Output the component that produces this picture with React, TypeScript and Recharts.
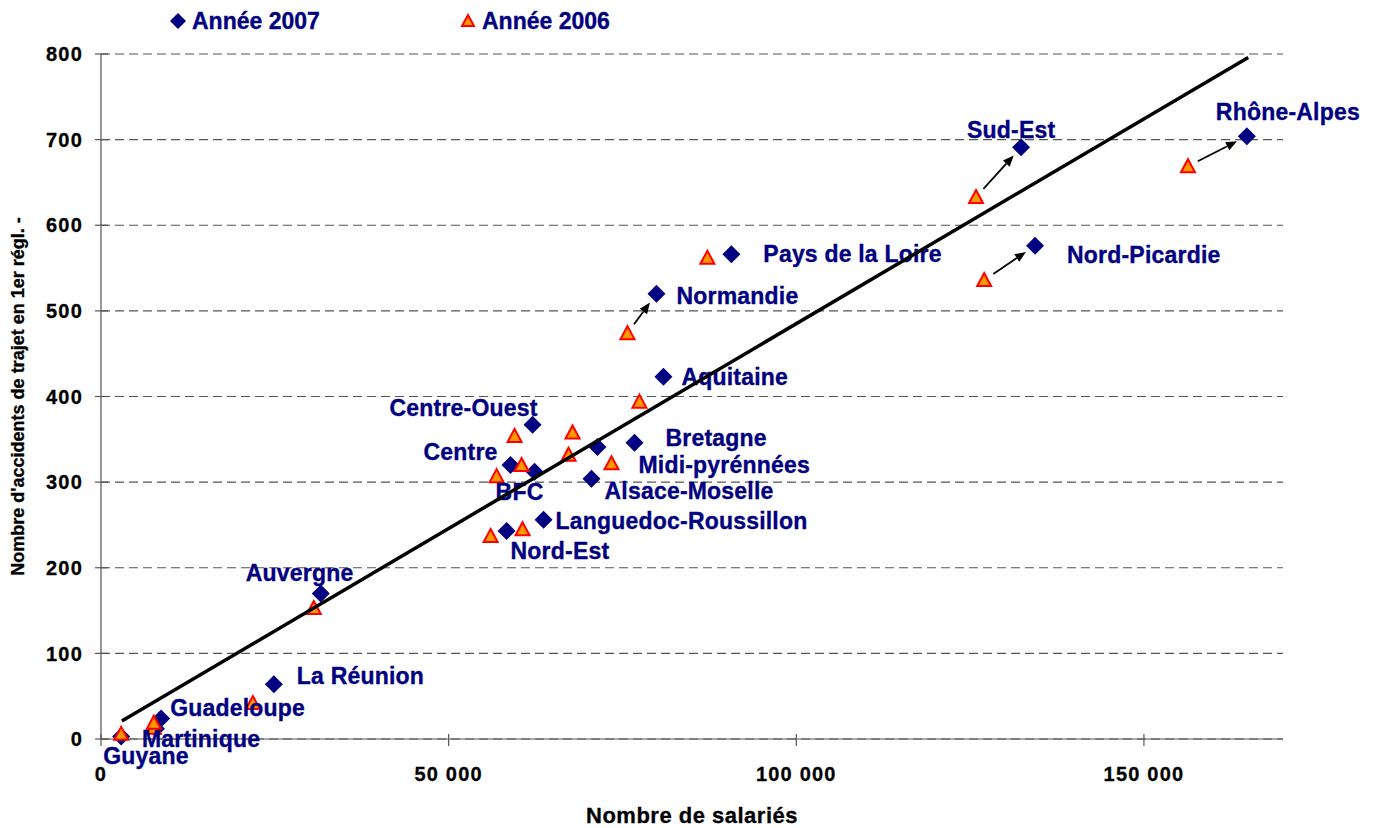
import React from 'react';
import { ScatterChart, Scatter, XAxis, YAxis, CartesianGrid, ReferenceLine, Legend, Label } from 'recharts';

const regions = [
  'Guyane', 'Martinique', 'Guadeloupe', 'La Réunion', 'Auvergne', 'Nord-Est',
  'Languedoc-Roussillon', 'BFC', 'Centre', 'Centre-Ouest', 'Alsace-Moselle',
  'Midi-pyrénnées', 'Bretagne', 'Aquitaine', 'Normandie', 'Pays de la Loire',
  'Sud-Est', 'Nord-Picardie', 'Rhône-Alpes',
];
const salaries2007 = [2900, 7900, 8650, 24860, 31610, 58330, 63650, 62360, 58900, 62070, 70550, 71400, 76730, 80890, 79890, 90660, 132330, 134340, 164800];
const accidents2007 = [3, 12, 24, 64, 170, 243, 256, 312, 320, 367, 304, 341, 346, 423, 520, 566, 691, 576, 704];
const salaries2006 = [2900, 7600, 7600, 21840, 30600, 56040, 60630, 60490, 56900, 59480, 67240, 73420, 67820, 77440, 75720, 87210, 125850, 127020, 156330];
const accidents2006 = [6, 13, 19, 42, 153, 237, 245, 320, 307, 354, 332, 322, 358, 394, 474, 562, 633, 536, 669];
const trendSalaries = [3000, 165000];
const trendAccidents = [21, 796];
const xTicks = [0, 50000, 100000, 150000];
const yTicks = [0, 100, 200, 300, 400, 500, 600, 700, 800];
const arrowRegions = ['Normandie', 'Sud-Est', 'Nord-Picardie', 'Rhône-Alpes'];

const data2007 = regions.map((name, i) => ({ name, x: salaries2007[i], y: accidents2007[i] }));
const data2006 = regions.map((name, i) => ({ name, x: salaries2006[i], y: accidents2006[i] }));
const trendData = trendSalaries.map((x, i) => ({ x, y: trendAccidents[i] }));

// label placement (pixel offsets from the 2007 marker: start x, vertical centre)
const labelOffsets: Record<string, [number, number]> = {
  'Guyane': [-18, 20],
  'Martinique': [-14, 10],
  'Guadeloupe': [9, -11],
  'La Réunion': [23, -8],
  'Auvergne': [-75, -20],
  'Nord-Est': [4, 20],
  'Languedoc-Roussillon': [12, 1],
  'BFC': [-39, 20],
  'Centre': [-87, -13],
  'Centre-Ouest': [-143, -17],
  'Alsace-Moselle': [13, 12],
  'Midi-pyrénnées': [41, 18],
  'Bretagne': [31, -5],
  'Aquitaine': [18, 0],
  'Normandie': [20, 2],
  'Pays de la Loire': [32, 0],
  'Sud-Est': [-54, -17],
  'Nord-Picardie': [32, 9],
  'Rhône-Alpes': [-31, -24],
};

const NAVY = '#000080';
const FONT = '"Liberation Sans", Arial, sans-serif';

const fmt = (v: number) => String(v).replace(/\B(?=(\d{3})+(?!\d))/g, ' ');

const Diamond = (props: any) => {
  const { cx, cy } = props;
  if (cx == null || cy == null) return null;
  const r = 9;
  return <polygon points={`${cx},${cy - r} ${cx + r},${cy} ${cx},${cy + r} ${cx - r},${cy}`} fill={NAVY} />;
};

const Triangle = (props: any) => {
  const { cx, cy } = props;
  if (cx == null || cy == null) return null;
  return (
    <polygon
      points={`${cx},${cy - 7} ${cx + 7},${cy + 6} ${cx - 7},${cy + 6}`}
      fill="#FF9900"
      stroke="#FF0000"
      strokeWidth={2}
    />
  );
};

const NameLabel = (props: any) => {
  const { cx, cy } = props;
  const name = props.payload?.name ?? props.name;
  const off = labelOffsets[name] || [12, 0];
  return (
    <text
      x={cx + off[0]}
      y={cy + off[1]}
      dy="0.35em"
      fill={NAVY}
      stroke={NAVY}
      strokeWidth={0.35}
      fontFamily={FONT}
      fontWeight="bold"
      fontSize={23}
      letterSpacing={0.2}
      textAnchor="start"
    >
      {name}
    </text>
  );
};

const Arrow = (props: any) => {
  const { x1, y1, x2, y2 } = props;
  const dx = x2 - x1;
  const dy = y2 - y1;
  const len = Math.sqrt(dx * dx + dy * dy) || 1;
  const ux = dx / len;
  const uy = dy / len;
  const sx = x1 + ux * 11;
  const sy = y1 + uy * 11;
  const ex = x2 - ux * 11;
  const ey = y2 - uy * 11;
  const hl = 11;
  const hw = 4.5;
  const bx = ex - ux * hl;
  const by = ey - uy * hl;
  const px = -uy;
  const py = ux;
  return (
    <g>
      <line x1={sx} y1={sy} x2={bx} y2={by} stroke="#000" strokeWidth={1.8} />
      <polygon
        points={`${ex},${ey} ${bx + px * hw},${by + py * hw} ${bx - px * hw},${by - py * hw}`}
        fill="#000"
      />
    </g>
  );
};

const YTick = (props: any) => {
  const { x, y, payload } = props;
  return (
    <g>
      <line x1={x - 6} y1={y} x2={x + 7} y2={y} stroke="#555" strokeWidth={1.2} />
      <text x={x - 18} y={y} dy="0.36em" textAnchor="end" fontFamily={FONT} fontWeight="bold" fontSize={20} letterSpacing={1.2} stroke="#000" strokeWidth={0.3} fill="#000">
        {payload.value}
      </text>
    </g>
  );
};

const XTick = (props: any) => {
  const { x, y, payload } = props;
  return (
    <g>
      <line x1={x} y1={y - 5} x2={x} y2={y + 7} stroke="#555" strokeWidth={1.2} />
      <text x={x} y={y + 42} textAnchor="middle" fontFamily={FONT} fontWeight="bold" fontSize={20} letterSpacing={1.2} stroke="#000" strokeWidth={0.3} fill="#000">
        {fmt(payload.value)}
      </text>
    </g>
  );
};

const LegendContent = () => (
  <svg width={700} height={40} style={{ display: 'block' }}>
    <polygon points="178,13 186,21 178,29 170,21" fill={NAVY} />
    <text x={192} y={29} fill={NAVY} stroke={NAVY} strokeWidth={0.35} fontFamily={FONT} fontWeight="bold" fontSize={23}>Année 2007</text>
    <polygon points="468,15 474,26 462,26" fill="#FF9900" stroke="#FF0000" strokeWidth={2} />
    <text x={482} y={29} fill={NAVY} stroke={NAVY} strokeWidth={0.35} fontFamily={FONT} fontWeight="bold" fontSize={23}>Année 2006</text>
  </svg>
);

export default function App() {
  return (
    <div style={{ position: 'absolute', left: 0, top: 0, width: 1380, height: 828, background: '#fff' }}>
      <ScatterChart width={1380} height={828} margin={{ top: 54, right: 97, bottom: 0, left: 0 }}>
        <CartesianGrid vertical={false} strokeDasharray="9 5" stroke="#555" strokeWidth={1.2} />
        <XAxis
          type="number"
          dataKey="x"
          domain={[0, 170000]}
          ticks={xTicks}
          height={89}
          tickSize={0}
          tickMargin={0}
          tick={<XTick />}
          axisLine={{ stroke: '#555', strokeWidth: 1.2 }}
          tickLine={false}
          interval={0}
        >
          <Label
            content={(p: any) => {
              const vb = p.viewBox || { x: 101, y: 739, width: 1182, height: 89 };
              return (
                <text x={vb.x + vb.width / 2} y={823} textAnchor="middle" fontFamily={FONT} fontWeight="bold" fontSize={22} letterSpacing={0.5} stroke="#000" strokeWidth={0.3} fill="#000">
                  Nombre de salariés
                </text>
              );
            }}
          />
        </XAxis>
        <YAxis
          type="number"
          dataKey="y"
          domain={[0, 800]}
          ticks={yTicks}
          width={101}
          tickSize={0}
          tickMargin={0}
          tick={<YTick />}
          axisLine={{ stroke: '#555', strokeWidth: 1.2 }}
          tickLine={false}
          interval={0}
        >
          <Label
            value="Nombre d'accidents de trajet en 1er régl. -"
            angle={-90}
            position="center"
            dx={-33}
            dy={0}
            style={{ fontFamily: FONT, fontWeight: 'bold', fontSize: 18, fill: '#000', stroke: '#000', strokeWidth: 0.3, textAnchor: 'middle' }}
          />
        </YAxis>
        <Legend verticalAlign="middle" align="center" content={<LegendContent />} wrapperStyle={{ top: 0, left: 0, width: 700, height: 40 }} />
        {arrowRegions.map((r) => {
          const i = regions.indexOf(r);
          return (
            <ReferenceLine
              key={r}
              segment={[{ x: salaries2006[i], y: accidents2006[i] }, { x: salaries2007[i], y: accidents2007[i] }]}
              shape={Arrow}
              ifOverflow="visible"
            />
          );
        })}
        <Scatter name="Année 2007" data={data2007} shape={Diamond} isAnimationActive={false} />
        <Scatter name="Année 2006" data={data2006} shape={Triangle} isAnimationActive={false} />
        <Scatter name="labels" data={data2007} shape={NameLabel} isAnimationActive={false} />
        <Scatter
          name="trend"
          data={trendData}
          line={{ stroke: '#000', strokeWidth: 3.5 }}
          shape={() => <g />}
          isAnimationActive={false}
        />
      </ScatterChart>
    </div>
  );
}
